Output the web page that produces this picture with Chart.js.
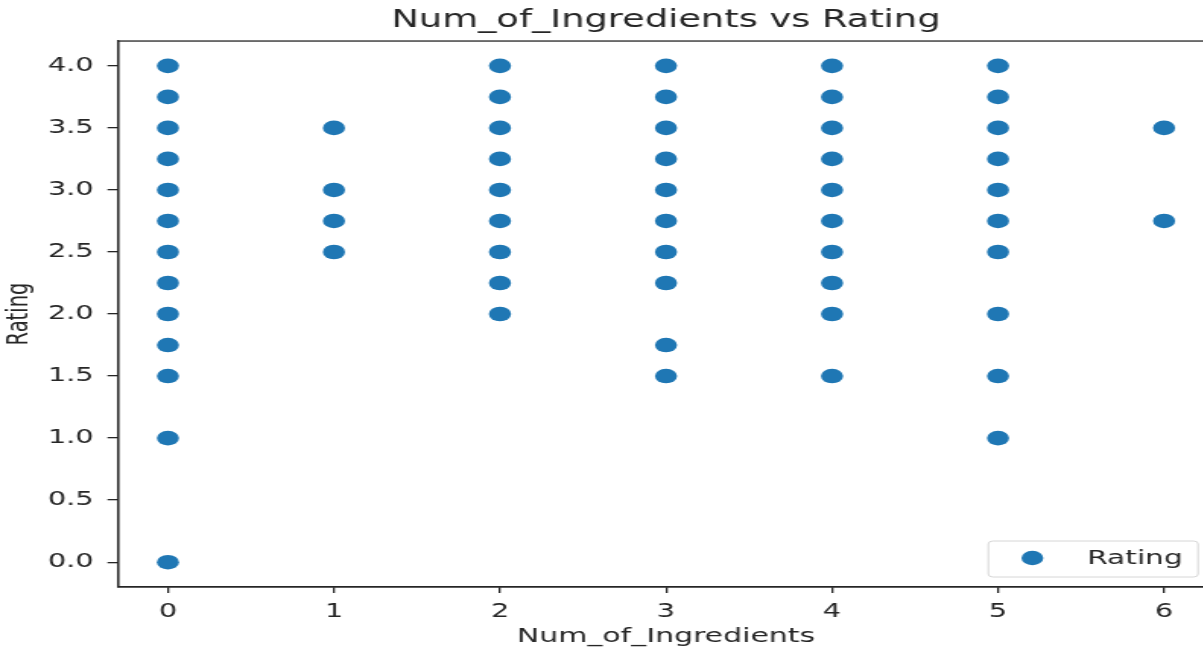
<!DOCTYPE html>
<html>
<head>
<meta charset="utf-8">
<script src="https://cdn.jsdelivr.net/npm/chart.js@4"></script>
<style>
    html, body { margin: 0; padding: 0; background: #fff; overflow: hidden; }
    /* the reference is stretched sideways, so the chart is drawn narrow and scaled */
    #wrap { width: 830px; height: 652px; transform: scaleX(1.52); transform-origin: 0 0; }
</style>
</head>
<body>
<div id="wrap"><canvas id="myChart" width="830" height="652"></canvas></div>
<script>
// Data
var numIngredients = [
    0, 0, 0, 0, 0, 0, 0, 0, 0, 0, 0, 0, 0,
    1, 1, 1, 1,
    2, 2, 2, 2, 2, 2, 2, 2, 2,
    3, 3, 3, 3, 3, 3, 3, 3, 3, 3,
    4, 4, 4, 4, 4, 4, 4, 4, 4, 4,
    5, 5, 5, 5, 5, 5, 5, 5, 5, 5,
    6, 6
];
var ratings = [
    4.0, 3.75, 3.5, 3.25, 3.0, 2.75, 2.5, 2.25, 2.0, 1.75, 1.5, 1.0, 0.0,
    3.5, 3.0, 2.75, 2.5,
    4.0, 3.75, 3.5, 3.25, 3.0, 2.75, 2.5, 2.25, 2.0,
    4.0, 3.75, 3.5, 3.25, 3.0, 2.75, 2.5, 2.25, 1.75, 1.5,
    4.0, 3.75, 3.5, 3.25, 3.0, 2.75, 2.5, 2.25, 2.0, 1.5,
    4.0, 3.75, 3.5, 3.25, 3.0, 2.75, 2.5, 2.0, 1.5, 1.0,
    3.5, 2.75
];
var xTicks = [0, 1, 2, 3, 4, 5, 6];
var yTicks = [0.0, 0.5, 1.0, 1.5, 2.0, 2.5, 3.0, 3.5, 4.0];
var seriesName = 'Rating';

var blue = '#1f77b4';
var ink = '#262626';
var fontFamily = '"DejaVu Sans", sans-serif';

var points = numIngredients.map(function (x, i) {
    return { x: x, y: ratings[i] };
});

// top (and right) spine of the axes box
var frame = {
    id: 'frame',
    afterDatasetsDraw: function (chart) {
        var a = chart.chartArea, ctx = chart.ctx;
        ctx.save();
        ctx.strokeStyle = ink;
        ctx.lineWidth = 1.3;
        ctx.strokeRect(a.left, a.top, a.right - a.left, a.bottom - a.top);
        ctx.restore();
    }
};

// matplotlib style legend in the lower right corner
var cornerLegend = {
    id: 'cornerLegend',
    afterDraw: function (chart) {
        var a = chart.chartArea, ctx = chart.ctx;
        var w = 138, h = 36;
        var x = a.right - 10.4 - w, y = a.bottom - 10 - h;
        ctx.save();
        ctx.beginPath();
        ctx.roundRect(x, y, w, h, 3);
        ctx.fillStyle = 'rgba(255,255,255,0.8)';
        ctx.fill();
        ctx.strokeStyle = '#d6d6d6';
        ctx.lineWidth = 1;
        ctx.stroke();
        ctx.beginPath();
        ctx.arc(x + 29, y + 17, 7.2, 0, Math.PI * 2);
        ctx.fillStyle = blue;
        ctx.fill();
        ctx.fillStyle = ink;
        ctx.font = '19.5px ' + fontFamily;
        ctx.textBaseline = 'middle';
        ctx.textAlign = 'left';
        ctx.fillText(seriesName, x + 65, y + 18);
        ctx.restore();
    }
};

var ctx = document.getElementById('myChart').getContext('2d');
new Chart(ctx, {
    type: 'scatter',
    data: {
        datasets: [{
            label: seriesName,
            data: points,
            backgroundColor: blue,
            borderColor: blue,
            borderWidth: 0,
            pointRadius: 7.3,
            pointHoverRadius: 7.3
        }]
    },
    options: {
        responsive: false,
        animation: false,
        devicePixelRatio: 1,
        layout: { padding: { top: 0, left: 0, right: 31.4, bottom: 0 } },
        plugins: {
            legend: { display: false },
            tooltip: { enabled: false },
            title: {
                display: true,
                fullSize: false,
                text: 'Num_of_Ingredients vs Rating',
                color: ink,
                font: { family: fontFamily, size: 24.2, weight: 'normal' },
                padding: { top: 6, bottom: 6 }
            }
        },
        scales: {
            x: {
                type: 'linear',
                min: -0.3,
                max: 6.3,
                afterBuildTicks: function (scale) {
                    scale.ticks = xTicks.map(function (v) { return { value: v }; });
                },
                afterFit: function (scale) { scale.height = 65; },
                grid: { drawOnChartArea: false, drawTicks: true, tickLength: 6, color: ink, lineWidth: 1.3 },
                border: { color: ink, width: 1.3 },
                ticks: {
                    color: ink,
                    padding: 8,
                    font: { family: fontFamily, size: 19 },
                    callback: function (v) { return String(v); }
                },
                title: {
                    display: true,
                    text: 'Num_of_Ingredients',
                    color: ink,
                    font: { family: fontFamily, size: 19.7 },
                    padding: 3
                }
            },
            y: {
                min: -0.2,
                max: 4.2,
                afterBuildTicks: function (scale) {
                    scale.ticks = yTicks.map(function (v) { return { value: v }; });
                },
                afterFit: function (scale) { scale.width = 77.7; },
                grid: { drawOnChartArea: false, drawTicks: true, tickLength: 7, color: ink, lineWidth: 1.3 },
                border: { color: ink, width: 1.3 },
                ticks: {
                    color: ink,
                    padding: 9,
                    font: { family: fontFamily, size: 19 },
                    callback: function (v) { return v.toFixed(1); }
                },
                title: {
                    display: true,
                    text: 'Rating',
                    color: ink,
                    font: { family: fontFamily, size: 19.5 },
                    padding: 1.5
                }
            }
        }
    },
    plugins: [frame, cornerLegend]
});
</script>
</body>
</html>
